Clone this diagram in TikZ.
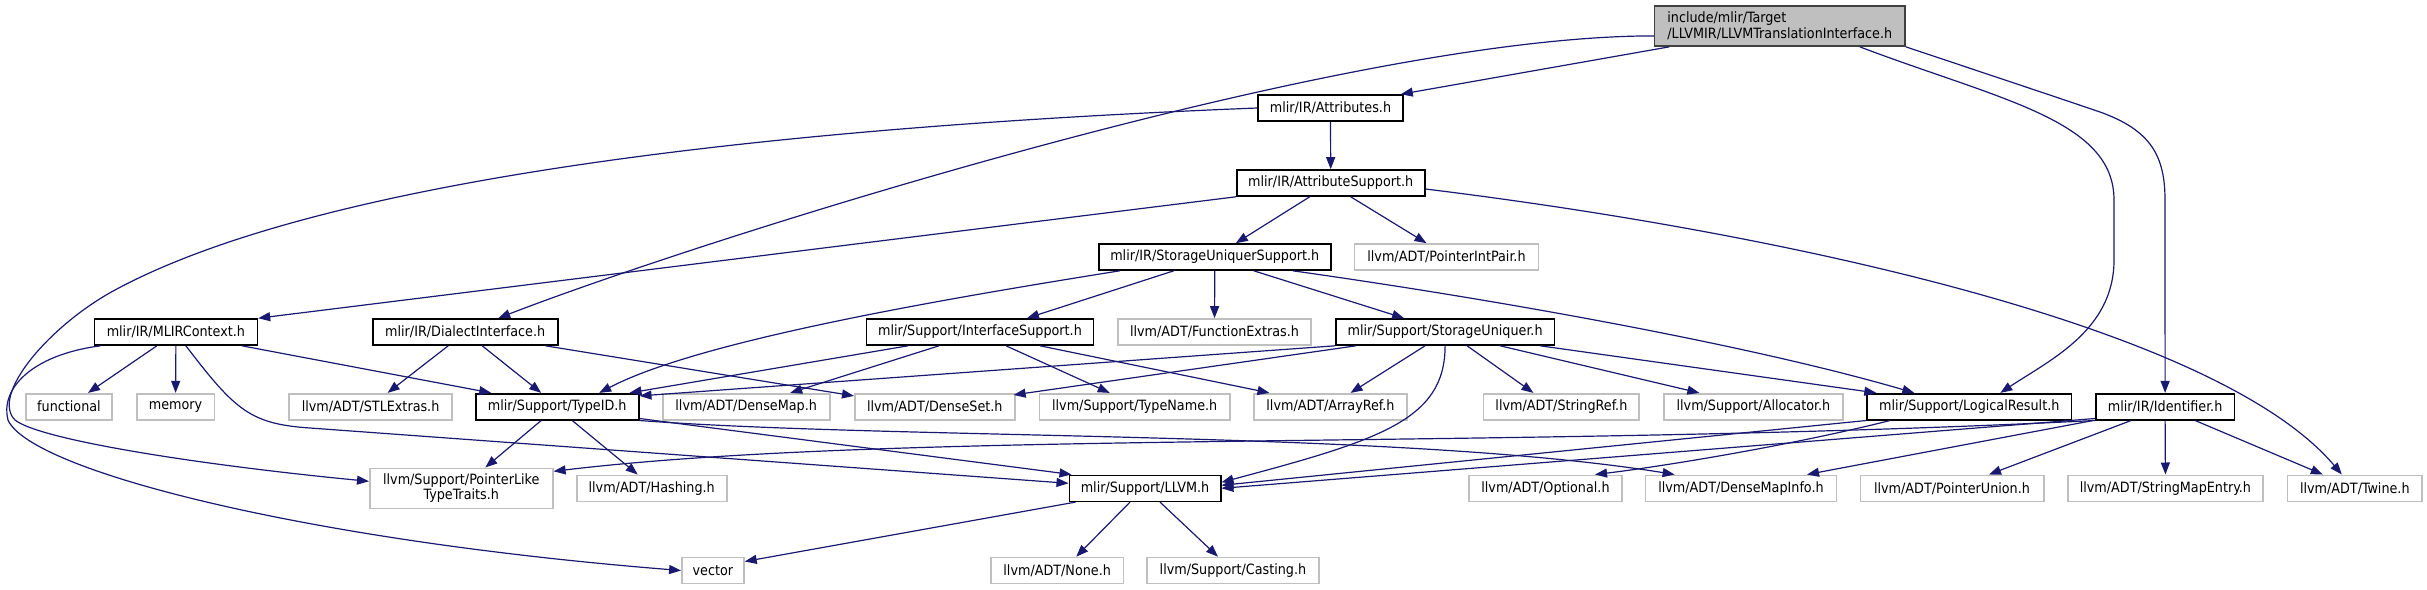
\documentclass[tikz,border=0pt]{standalone}
\usepackage{fontspec}
\setmainfont{DejaVu Sans Condensed}
\usetikzlibrary{arrows.meta}
\definecolor{edgeblue}{RGB}{25,25,112}
\definecolor{grayborder}{RGB}{191,191,191}
\definecolor{rootfill}{RGB}{191,191,191}
\definecolor{rootborder}{RGB}{64,64,64}
\begin{document}
\begin{tikzpicture}[x=1pt,y=-1pt,
  box/.style={rectangle, draw=black, line width=1.6pt, minimum height=26pt, inner sep=0pt,
    font=\fontsize{14.2}{15.5}\selectfont, fill=white},
  graybox/.style={box, draw=grayborder},
  rootbox/.style={box, fill=rootfill, draw=rootborder, minimum height=40.3pt, align=left},
  twobox/.style={graybox, minimum height=40pt, align=center},
  dep/.style={draw=edgeblue, line width=1.2pt, -{Triangle[length=12pt,width=9pt]}}
]
\useasboundingbox (0,0) rectangle (2427,589);

% row 1
\node[rootbox, minimum width=250.5pt] (root) at (1779.8,25.9) {include/mlir/Target\\/LLVMIR/LLVMTranslationInterface.h};
% row 2-3
\node[box, minimum width=145pt] (attr) at (1330.5,108) {mlir/IR/Attributes.h};
\node[box, minimum width=188pt] (attrsup) at (1330.7,183) {mlir/IR/AttributeSupport.h};
\node[box, minimum width=232pt] (sus) at (1214.8,257) {mlir/IR/StorageUniquerSupport.h};
\node[graybox, minimum width=184pt] (pip) at (1446.5,257) {llvm/ADT/PointerIntPair.h};
% row 4
\node[box, minimum width=163pt] (mlirctx) at (175.9,332) {mlir/IR/MLIRContext.h};
\node[box, minimum width=185pt] (dial) at (465.2,332) {mlir/IR/DialectInterface.h};
\node[box, minimum width=227pt] (isup) at (980,332) {mlir/Support/InterfaceSupport.h};
\node[graybox, minimum width=193pt] (fext) at (1214.5,332) {llvm/ADT/FunctionExtras.h};
\node[box, minimum width=218.5pt] (suniq) at (1445.1,332) {mlir/Support/StorageUniquer.h};
% row 5
\node[graybox, minimum width=86pt] (functional) at (69,406.7) {functional};
\node[graybox, minimum width=77.5pt] (memory) at (175.6,406.7) {memory};
\node[graybox, minimum width=163pt] (stl) at (370.6,406.7) {llvm/ADT/STLExtras.h};
\node[box, minimum width=163pt] (typeid) at (557.2,406.7) {mlir/Support/TypeID.h};
\node[graybox, minimum width=167pt] (densemap) at (746.2,406.7) {llvm/ADT/DenseMap.h};
\node[graybox, minimum width=160pt] (denseset) at (934.8,406.7) {llvm/ADT/DenseSet.h};
\node[graybox, minimum width=190.6pt] (typename) at (1134.7,406.7) {llvm/Support/TypeName.h};
\node[graybox, minimum width=153.4pt] (arrayref) at (1330.5,406.7) {llvm/ADT/ArrayRef.h};
\node[graybox, minimum width=155.6pt] (stringref) at (1561.4,406.7) {llvm/ADT/StringRef.h};
\node[graybox, minimum width=178.8pt] (allocator) at (1753.4,406.7) {llvm/Support/Allocator.h};
\node[box, minimum width=204.6pt] (logres) at (1969.3,406.7) {mlir/Support/LogicalResult.h};
\node[box, minimum width=138.4pt] (ident) at (2165.1,406.7) {mlir/IR/Identifier.h};
% row 6
\node[twobox, minimum width=183pt] (ptrlike) at (461.3,488.3) {llvm/Support/PointerLike\\TypeTraits.h};
\node[graybox, minimum width=150pt] (hashing) at (651.7,488.3) {llvm/ADT/Hashing.h};
\node[box, minimum width=151.4pt] (llvm) at (1145,488.3) {mlir/Support/LLVM.h};
\node[graybox, minimum width=153.5pt] (optional) at (1545.5,488.3) {llvm/ADT/Optional.h};
\node[graybox, minimum width=191.2pt] (dmi) at (1741,488.3) {llvm/ADT/DenseMapInfo.h};
\node[graybox, minimum width=183.4pt] (punion) at (1952,488.3) {llvm/ADT/PointerUnion.h};
\node[graybox, minimum width=194.8pt] (sme) at (2165.4,488.3) {llvm/ADT/StringMapEntry.h};
\node[graybox, minimum width=134.3pt] (twine) at (2354.8,488.3) {llvm/ADT/Twine.h};
% row 7
\node[graybox, minimum width=62pt] (vector) at (712.9,570.5) {vector};
\node[graybox, minimum width=132.8pt] (none) at (1057.2,570.5) {llvm/ADT/None.h};
\node[graybox, minimum width=171.5pt] (casting) at (1233,570.5) {llvm/Support/Casting.h};

% edges from root
\draw[dep] ([xshift=15.5pt]root.south west) -- ([xshift=-3pt]attr.north east);
\draw[dep] ([yshift=-10pt]root.west) .. controls (1334.7,35.8) and (685.3,245.7) .. ([xshift=33pt]dial.north);
\draw[dep] ([xshift=80pt]root.south) .. controls (2000,100) and (2114,120) .. (2114,200) -- (2114,260) .. controls (2114,330) and (2050,360) .. ([xshift=31pt]logres.north);
\draw[dep] (root.south east) .. controls (1990,75) and (2050,95) .. (2100,112) .. controls (2150,130) and (2165,155) .. (2165,200) -- (ident.north);
% Attributes
\draw[dep] (attr.south) -- (attrsup.north);
\draw[dep] (attr.west) .. controls (700,130) and (300,190) .. (115,290) .. controls (50,325) and (-10,395) .. (15,420) .. controls (40,440) and (200,465) .. ([yshift=7pt]ptrlike.west);
% AttributeSupport
\draw[dep] ([xshift=-21pt]attrsup.south) -- ([xshift=21pt]sus.north);
\draw[dep] ([xshift=20pt]attrsup.south) -- ([xshift=-20pt]pip.north);
\draw[dep] (attrsup.south west) -- (mlirctx.north east);
\draw[dep] ([yshift=-6pt]attrsup.east) .. controls (1800,235) and (2220,330) .. ([xshift=-13pt]twine.north);
% StorageUniquerSupport
\draw[dep] ([xshift=-95pt]sus.south) .. controls (950,298) and (700,340) .. ([xshift=42pt]typeid.north);
\draw[dep] ([xshift=-41pt]sus.south) -- ([xshift=47pt]isup.north);
\draw[dep] (sus.south) -- (fext.north);
\draw[dep] ([xshift=39pt]sus.south) -- ([xshift=-41pt]suniq.north);
\draw[dep] ([xshift=78pt]sus.south) .. controls (1500,300) and (1750,345) .. ([xshift=-55pt]logres.north);
% MLIRContext
\draw[dep] ([xshift=-19pt]mlirctx.south) -- ([xshift=19pt]functional.north);
\draw[dep] (mlirctx.south) -- (memory.north);
\draw[dep] ([xshift=66pt]mlirctx.south) -- ([xshift=-66pt]typeid.north);
\draw[dep] ([xshift=10pt]mlirctx.south) .. controls (235,410) and (250,424) .. (310,428) -- ([yshift=5pt]llvm.west);
\draw[dep] ([xshift=7pt]mlirctx.south west) .. controls (30,355) and (0,390) .. (8,420) .. controls (30,470) and (300,540) .. (vector.west);
% DialectInterface
\draw[dep] ([xshift=-17pt]dial.south) -- ([xshift=17pt]stl.north);
\draw[dep] ([xshift=17pt]dial.south) -- ([xshift=-16pt]typeid.north);
\draw[dep] ([xshift=-13pt]dial.south east) -- ([yshift=-3pt]denseset.north west);
% InterfaceSupport
\draw[dep] ([xshift=-72pt]isup.south) -- ([xshift=-10pt]typeid.north east);
\draw[dep] ([xshift=-41pt]isup.south) -- ([xshift=44pt]densemap.north);
\draw[dep] ([xshift=26pt]isup.south) -- ([xshift=-25pt]typename.north);
\draw[dep] ([xshift=60pt]isup.south) -- ([xshift=-61pt]arrayref.north);
% StorageUniquer
\draw[dep] (suniq.south west) -- ([yshift=-3pt]typeid.north east);
\draw[dep] ([xshift=21pt]suniq.south west) -- ([xshift=-2pt,yshift=-2pt]denseset.north east);
\draw[dep] ([xshift=-20pt]suniq.south) -- ([xshift=20pt]arrayref.north);
\draw[dep] (suniq.south) .. controls (1445,420) and (1380,440) .. ([yshift=6pt]llvm.east);
\draw[dep] ([xshift=22pt]suniq.south) -- ([xshift=-28pt]stringref.north);
\draw[dep] ([xshift=55pt]suniq.south) -- ([xshift=-54pt]allocator.north);
\draw[dep] ([xshift=95pt]suniq.south) -- ([xshift=-93pt]logres.north);
% TypeID
\draw[dep] ([xshift=-16pt]typeid.south) -- ([xshift=24pt]ptrlike.north);
\draw[dep] ([xshift=15pt]typeid.south) -- ([xshift=-14pt]hashing.north);
\draw[dep] ([yshift=2pt]typeid.south east) -- ([xshift=3pt]llvm.north west);
\draw[dep] (typeid.south east) .. controls (900,440) and (1400,430) .. ([xshift=30pt]dmi.north west);
% LLVM.h
\draw[dep] ([xshift=7pt]llvm.south west) -- ([yshift=9pt]vector.east);
\draw[dep] ([xshift=-15pt]llvm.south) -- ([xshift=19pt]none.north);
\draw[dep] ([xshift=15pt]llvm.south) -- ([xshift=-15pt]casting.north);
% LogicalResult
\draw[dep] (logres.south west) -- ([yshift=3pt]llvm.east);
\draw[dep] ([xshift=24pt]logres.south west) .. controls (1780,448) and (1650,468) .. ([xshift=-28pt]optional.north east);
% Identifier
\draw[dep] ([yshift=2pt]ident.south west) -- (llvm.east);
\draw[dep] (ident.south west) .. controls (1500,450) and (900,430) .. ([yshift=17pt]ptrlike.east);
\draw[dep] ([xshift=-2pt]ident.south west) -- ([xshift=66pt]dmi.north);
\draw[dep] ([xshift=-34pt]ident.south) -- ([xshift=37pt]punion.north);
\draw[dep] (ident.south) -- (sme.north);
\draw[dep] ([xshift=30pt]ident.south) -- ([xshift=-32pt]twine.north);
\end{tikzpicture}
\end{document}
